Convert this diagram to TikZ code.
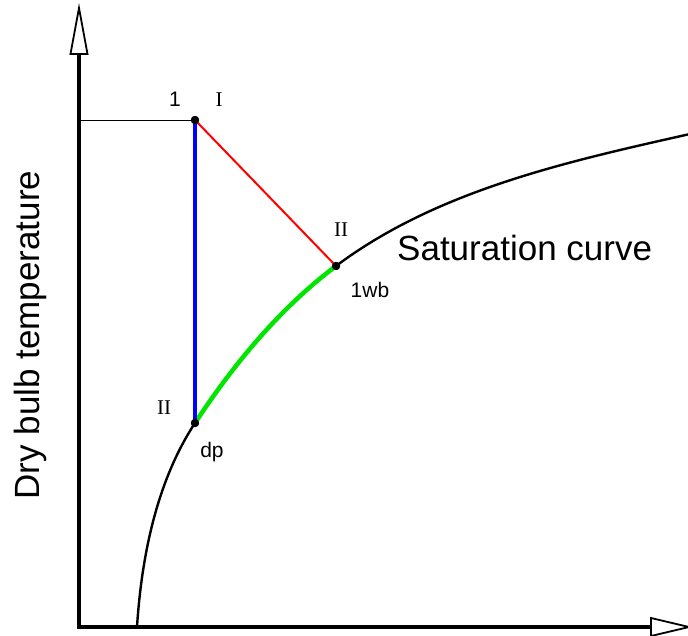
\documentclass[tikz,border=0pt]{standalone}
\usepackage{fontspec}
\setmainfont{Liberation Serif}
\newfontfamily\arialf{Liberation Sans}
\definecolor{brightgreen}{RGB}{0,230,0}
\begin{document}
\begin{tikzpicture}[x=1pt,y=-1pt,
  dot/.style={circle,fill=black,inner sep=0pt,minimum size=8pt},
  sanslbl/.style={font=\arialf\fontsize{21}{24}\selectfont,inner sep=0pt},
  romlbl/.style={font=\fontsize{21}{24}\selectfont,inner sep=0pt},
  biglbl/.style={font=\arialf\fontsize{35}{40}\selectfont,inner sep=0pt},
  axisline/.style={line width=3.5pt,line join=miter},
  axishead/.style={line width=1.8pt,fill=white,line join=miter},
  satcurve/.style={line width=2.4pt},
  greencurve/.style={line width=4.5pt,brightgreen}]
\path[use as bounding box] (0,0) rectangle (688,635);
\clip (0,0) rectangle (688,635);

% axes
\coordinate (ytop) at (79,54);
\coordinate (O) at (79,627);
\coordinate (xend) at (651,627);
\coordinate (ytip) at (79,8);
\coordinate (xtip) at (689,627);
\draw[axisline] (ytop) -- (O) -- (xend);
\draw[axishead] (ytip) -- (70.5,54) -- (87.5,54) -- cycle;
\draw[axishead] (xtip) -- (651,618) -- (651,636) -- cycle;

% points
\node[dot] (p1) at (195,120) {};
\node[dot] (wb) at (336,266) {};
\node[dot] (dp) at (195,423) {};
\coordinate (h0) at (79,120);
\coordinate (c0) at (137,627);
\coordinate (cend) at (690,134);

% saturation curve
\draw[satcurve] (c0) .. controls (141.5,557) and (156.5,481.5) .. (dp.center)
  .. controls (233.5,364.5) and (280,308) .. (wb.center)
  .. controls (436.8,190.4) and (567,161.6) .. (cend);
\draw[greencurve] (dp.center) .. controls (233.5,364.5) and (280,308) .. (wb.center);

% process lines
\draw[line width=1pt] (h0) -- (p1.center);
\draw[line width=2pt,red] (p1.center) -- (wb.center);
\draw[line width=3.2pt,blue] (p1.center) -- (dp.center);

% redraw dots on top
\fill (p1.center) circle (4.2);
\fill (wb.center) circle (4.2);
\fill (dp.center) circle (4.2);

% labels
\node[sanslbl] (l1) at (175,99.5) {1};
\node[romlbl] (lI) at (219,100) {I};
\node[romlbl] (lII1) at (341,230) {II};
\node[sanslbl] (lwb) at (370,289.5) {1wb};
\node[romlbl] (lII2) at (164,407.5) {II};
\node[sanslbl] (ldp) at (212,452) {dp};
\node[biglbl,anchor=base west] (lsat) at (397,260) {Saturation curve};
\node[biglbl,anchor=base,rotate=90] (ly) at (39,335) {Dry bulb temperature};
\end{tikzpicture}
\end{document}
